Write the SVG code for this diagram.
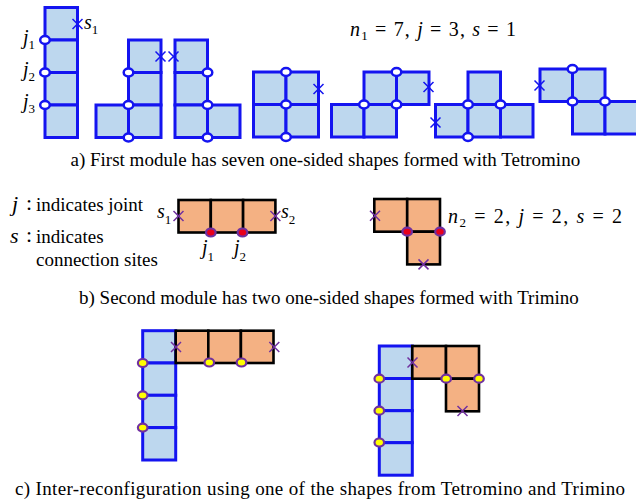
<svg xmlns="http://www.w3.org/2000/svg" width="636" height="502" viewBox="0 0 636 502" font-family="'Liberation Serif', 'Times New Roman', serif">
<style>
.b{fill:#bdd7ee;stroke:#1414f0;stroke-width:3}
.o{fill:#f4b183;stroke:#000;stroke-width:2.6}
.jw{fill:#fff;stroke:#1414f0;stroke-width:2.5}
.jr{fill:#e8001c;stroke:#7030a0;stroke-width:2.2}
.jy{fill:#ffff00;stroke:#7030a0;stroke-width:2.2}
.xb{stroke:#1414f0;stroke-width:1.5;fill:none}
.xp{stroke:#7030a0;stroke-width:1.5;fill:none}
text{font-family:'Liberation Serif','Times New Roman',serif;fill:#000}
.t{font-size:19px}
.m{font-size:20px}
.i{font-style:italic}
.sub{font-size:13px}
</style>
<defs>
<path id="xm" d="M-5,-5L5,5M-5,5L5,-5"/>
<ellipse id="jt" rx="4.8" ry="4"/>
</defs>

<g id="tetromino-I">
<rect class="b" x="45" y="7.5" width="32.5" height="32.5"/>
<rect class="b" x="45" y="40" width="32.5" height="32.5"/>
<rect class="b" x="45" y="72.5" width="32.5" height="32.5"/>
<rect class="b" x="45" y="105" width="32.5" height="32.5"/>
<use href="#jt" class="jw" x="45" y="40"/>
<use href="#jt" class="jw" x="45" y="72.5"/>
<use href="#jt" class="jw" x="45" y="105"/>
<use href="#xm" class="xb" x="77.5" y="24"/>
<text class="m i" x="84" y="29">s<tspan class="sub" font-style="normal" dy="5">1</tspan></text>
<text class="m i" x="23" y="44">j<tspan class="sub" font-style="normal" dy="5">1</tspan></text>
<text class="m i" x="23" y="76">j<tspan class="sub" font-style="normal" dy="5">2</tspan></text>
<text class="m i" x="23" y="108">j<tspan class="sub" font-style="normal" dy="5">3</tspan></text>
</g>

<g id="tetromino-J">
<rect class="b" x="128.5" y="40" width="32.5" height="32.5"/>
<rect class="b" x="128.5" y="72.5" width="32.5" height="32.5"/>
<rect class="b" x="128.5" y="105" width="32.5" height="32.5"/>
<rect class="b" x="96" y="105" width="32.5" height="32.5"/>
<use href="#jt" class="jw" x="128.5" y="72.5"/>
<use href="#jt" class="jw" x="128.5" y="105"/>
<use href="#jt" class="jw" x="128.5" y="137.5"/>
<use href="#xm" class="xb" x="160.5" y="56.5"/>
</g>

<g id="tetromino-L">
<rect class="b" x="175" y="40" width="32.5" height="32.5"/>
<rect class="b" x="175" y="72.5" width="32.5" height="32.5"/>
<rect class="b" x="175" y="105" width="32.5" height="32.5"/>
<rect class="b" x="207.5" y="105" width="32.5" height="32.5"/>
<use href="#jt" class="jw" x="207.5" y="72.5"/>
<use href="#jt" class="jw" x="207.5" y="105"/>
<use href="#jt" class="jw" x="207.5" y="137.5"/>
<use href="#xm" class="xb" x="173.5" y="56.5"/>
</g>

<g id="tetromino-O">
<rect class="b" x="253.5" y="72" width="32.5" height="32.5"/>
<rect class="b" x="286" y="72" width="32.5" height="32.5"/>
<rect class="b" x="253.5" y="104.5" width="32.5" height="32.5"/>
<rect class="b" x="286" y="104.5" width="32.5" height="32.5"/>
<use href="#jt" class="jw" x="286" y="72"/>
<use href="#jt" class="jw" x="286" y="104.5"/>
<use href="#jt" class="jw" x="286" y="137"/>
<use href="#xm" class="xb" x="318.5" y="89"/>
</g>

<g id="tetromino-S">
<rect class="b" x="364" y="72" width="32.5" height="32.5"/>
<rect class="b" x="396.5" y="72" width="32.5" height="32.5"/>
<rect class="b" x="331.5" y="104.5" width="32.5" height="32.5"/>
<rect class="b" x="364" y="104.5" width="32.5" height="32.5"/>
<use href="#jt" class="jw" x="396.5" y="72"/>
<use href="#jt" class="jw" x="364" y="104.5"/>
<use href="#jt" class="jw" x="396.5" y="104.5"/>
<use href="#xm" class="xb" x="428.5" y="87"/>
</g>

<g id="tetromino-T">
<rect class="b" x="468" y="72" width="32.5" height="32.5"/>
<rect class="b" x="435.5" y="104.5" width="32.5" height="32.5"/>
<rect class="b" x="468" y="104.5" width="32.5" height="32.5"/>
<rect class="b" x="500.5" y="104.5" width="32.5" height="32.5"/>
<use href="#jt" class="jw" x="468" y="104.5"/>
<use href="#jt" class="jw" x="500.5" y="104.5"/>
<use href="#jt" class="jw" x="468" y="137"/>
<use href="#xm" class="xb" x="435.5" y="122.5"/>
</g>

<g id="tetromino-Z">
<rect class="b" x="540" y="69" width="32.5" height="32.5"/>
<rect class="b" x="572.5" y="69" width="32.5" height="32.5"/>
<rect class="b" x="572.5" y="101.5" width="32.5" height="32.5"/>
<rect class="b" x="605" y="101.5" width="32.5" height="32.5"/>
<use href="#jt" class="jw" x="572.5" y="69"/>
<use href="#jt" class="jw" x="572.5" y="101.5"/>
<use href="#jt" class="jw" x="605" y="101.5"/>
<use href="#xm" class="xb" x="539.5" y="85.5"/>
</g>

<g id="label-n1">
<text class="m" x="350" y="36" textLength="166" lengthAdjust="spacing"><tspan class="i">n</tspan><tspan class="sub" dy="4">1</tspan><tspan dy="-4"> = 7, </tspan><tspan class="i">j</tspan> = 3, <tspan class="i">s</tspan> = 1</text>
</g>

<g id="caption-a">
<text class="t" x="70.5" y="166">a) First module has seven one-sided shapes formed with Tetromino</text>
</g>

<g id="legend">
<text x="12" y="211" font-size="22" class="i">j</text>
<text x="26" y="210" font-size="22">:</text>
<text x="36" y="211" font-size="19">indicates joint</text>
<text x="10" y="243" font-size="22" class="i">s</text>
<text x="26" y="242" font-size="22">:</text>
<text x="36" y="243" font-size="19">indicates</text>
<text x="36" y="266" font-size="19">connection sites</text>
</g>

<g id="trimino-I">
<rect class="o" x="178.5" y="200" width="32.3" height="32.5"/>
<rect class="o" x="210.8" y="200" width="32.3" height="32.5"/>
<rect class="o" x="243.1" y="200" width="32.3" height="32.5"/>
<use href="#jt" class="jr" x="210.8" y="232.5"/>
<use href="#jt" class="jr" x="242.5" y="232.5"/>
<use href="#xm" class="xp" x="178.5" y="216"/>
<use href="#xm" class="xp" x="275.4" y="216"/>
<text class="m i" x="157" y="218">s<tspan class="sub" font-style="normal" dy="6">1</tspan></text>
<text class="m i" x="281" y="218">s<tspan class="sub" font-style="normal" dy="6">2</tspan></text>
<text class="m i" x="202" y="254">j<tspan class="sub" font-style="normal" dy="7">1</tspan></text>
<text class="m i" x="234" y="254">j<tspan class="sub" font-style="normal" dy="7">2</tspan></text>
</g>

<g id="trimino-L">
<rect class="o" x="374.3" y="199" width="32.9" height="32.7"/>
<rect class="o" x="407.2" y="199" width="32.8" height="32.7"/>
<rect class="o" x="407.2" y="231.7" width="32.8" height="32.7"/>
<use href="#jt" class="jr" x="407.2" y="231.7"/>
<use href="#jt" class="jr" x="440" y="231.7"/>
<use href="#xm" class="xp" x="375" y="215.7"/>
<use href="#xm" class="xp" x="423.5" y="264.4"/>
</g>

<g id="label-n2">
<text class="m" x="448" y="223" textLength="174" lengthAdjust="spacing"><tspan class="i">n</tspan><tspan class="sub" dy="4">2</tspan><tspan dy="-4"> = 2, </tspan><tspan class="i">j</tspan> = 2, <tspan class="i">s</tspan> = 2</text>
</g>

<g id="caption-b">
<text class="t" x="79" y="304" font-size="19.5">b) Second module has two one-sided shapes formed with Trimino</text>
</g>

<g id="combo-1">
<rect class="b" x="142.7" y="330.7" width="33" height="32.3"/>
<rect class="b" x="142.7" y="363" width="33" height="32.3"/>
<rect class="b" x="142.7" y="395.3" width="33" height="32.3"/>
<rect class="b" x="142.7" y="427.6" width="33" height="32.4"/>
<rect class="o" x="175.7" y="330.7" width="32.6" height="32.3"/>
<rect class="o" x="208.3" y="330.7" width="32.6" height="32.3"/>
<rect class="o" x="240.9" y="330.7" width="32.6" height="32.3"/>
<use href="#jt" class="jy" x="142.7" y="363"/>
<use href="#jt" class="jy" x="142.7" y="395.3"/>
<use href="#jt" class="jy" x="142.7" y="427.6"/>
<use href="#jt" class="jy" x="209.3" y="362.5"/>
<use href="#jt" class="jy" x="241.5" y="362.5"/>
<use href="#xm" class="xp" x="176" y="347"/>
<use href="#xm" class="xp" x="274.3" y="347"/>
</g>

<g id="combo-2">
<rect class="b" x="379.3" y="346" width="33" height="32.5"/>
<rect class="b" x="379.3" y="378.5" width="33" height="32.2"/>
<rect class="b" x="379.3" y="410.7" width="33" height="32"/>
<rect class="b" x="379.3" y="442.7" width="33" height="32.5"/>
<rect class="o" x="412.3" y="346" width="33.7" height="32.7"/>
<rect class="o" x="446" y="346" width="33" height="32.7"/>
<rect class="o" x="446" y="378.7" width="33" height="32.6"/>
<use href="#jt" class="jy" x="379.3" y="378.7"/>
<use href="#jt" class="jy" x="379.3" y="410.7"/>
<use href="#jt" class="jy" x="379.3" y="442.5"/>
<use href="#jt" class="jy" x="446.2" y="378.7"/>
<use href="#jt" class="jy" x="479" y="378.7"/>
<use href="#xm" class="xp" x="412.5" y="362.5"/>
<use href="#xm" class="xp" x="462.5" y="411"/>
</g>

<g id="caption-c">
<text class="t" x="15" y="495" font-size="19.5" textLength="610" lengthAdjust="spacing">c) Inter-reconfiguration using one of the shapes from Tetromino and Trimino</text>
</g>

<g id="connectors"/>
</svg>
